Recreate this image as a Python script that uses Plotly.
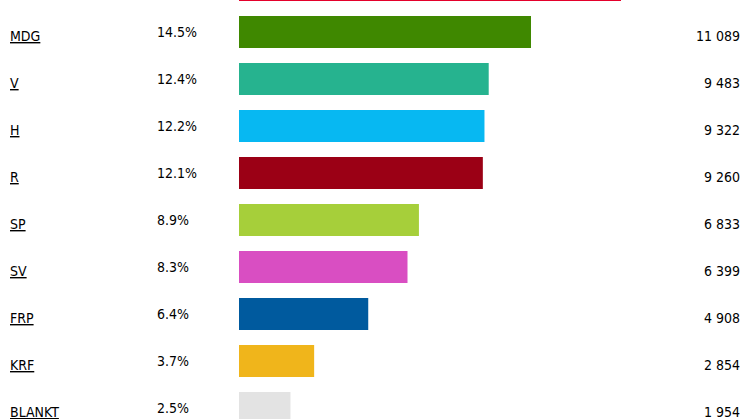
import plotly.graph_objects as go

parties = ["AP", "MDG", "V", "H", "R", "SP", "SV", "FRP", "KRF", "BLANKT"]
percent = ["19.0%", "14.5%", "12.4%", "12.2%", "12.1%", "8.9%", "8.3%", "6.4%", "3.7%", "2.5%"]
votes = [14507, 11089, 9483, 9322, 9260, 6833, 6399, 4908, 2854, 1954]
vote_labels = ["14 507", "11 089", "9 483", "9 322", "9 260", "6 833", "6 399", "4 908", "2 854", "1 954"]
colors = ["#e4002b", "#3f8800", "#26b38f", "#07b8f2", "#9b0015", "#a6cf3a",
          "#d94ec2", "#005a9e", "#f0b51b", "#e3e3e3"]

W, H = 746, 419
x0_px = 239
px_per_vote = 292 / 11089
xmin = -x0_px / px_per_vote
xmax = (W - x0_px) / px_per_vote

fig = go.Figure()
fig.add_trace(go.Bar(
    y=parties, x=votes, orientation="h",
    marker=dict(color=colors, line=dict(width=0)),
    width=0.68, hoverinfo="skip",
))

font = dict(family="DejaVu Sans Condensed, DejaVu Sans, sans-serif", size=14, color="#000000")
ann = []
for p, pc, vl in zip(parties, percent, vote_labels):
    ann.append(dict(xref="paper", yref="y", x=8 / W, y=p, text="<u>" + p + "</u>",
                    showarrow=False, xanchor="left", yanchor="middle", yshift=-4, font=font))
    ann.append(dict(xref="paper", yref="y", x=155 / W, y=p, text=pc,
                    showarrow=False, xanchor="left", yanchor="middle", yshift=0, font=font))
    ann.append(dict(xref="paper", yref="y", x=742 / W, y=p, text=vl,
                    showarrow=False, xanchor="right", yanchor="middle", yshift=-4, font=font))

top = 15 / 47
bottom = (H + 15) / 47
fig.update_layout(
    width=W, height=H, margin=dict(l=0, r=0, t=0, b=0),
    paper_bgcolor="white", plot_bgcolor="white", showlegend=False,
    xaxis=dict(range=[xmin, xmax], visible=False, fixedrange=True),
    yaxis=dict(range=[bottom, top], visible=False, type="category", fixedrange=True),
    annotations=ann,
)
fig.write_html("out.html", config={"displayModeBar": False},
               post_script="document.body.style.margin='0';document.body.style.overflow='hidden';")
